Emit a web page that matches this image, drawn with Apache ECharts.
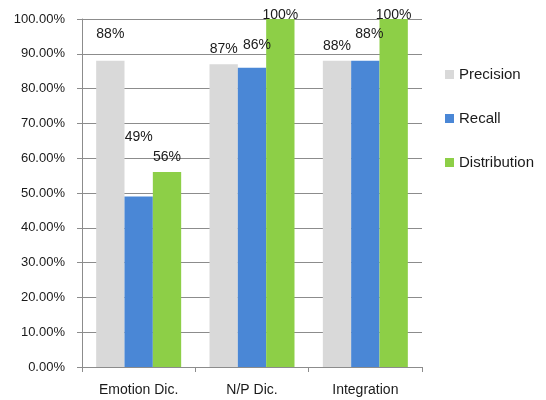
<!DOCTYPE html>
<html>
<head>
<meta charset="utf-8">
<script src="https://cdn.jsdelivr.net/npm/echarts@6/dist/echarts.min.js"></script>
<style>
  html, body { margin: 0; padding: 0; background: #fff; }
  #chart { width: 546px; height: 400px; }
</style>
</head>
<body>
<div id="chart"></div>
<script>
var categories = ['Emotion Dic.', 'N/P Dic.', 'Integration'];
var seriesNames = ['Precision', 'Recall', 'Distribution'];
var precision = [88, 87, 88];
var recall = [49, 86, 88];
var distribution = [56, 100, 100];
var colors = ['#d9d9d9', '#4a87d6', '#8dcf47'];

// label nudges (x, y) so the labels sit where they do in the picture
var labelOffsets = [
  [[0, -16], [0, -4], [0, -4]],
  [[0, -48], [5, -12], [4, -16]],
  [[0, -4], [0, 7], [0, 7]]
];

var allValues = [precision, recall, distribution];

function makeSeries(i) {
  return {
    name: seriesNames[i],
    type: 'bar',
    barGap: 0,
    barCategoryGap: '25%',
    itemStyle: { color: colors[i] },
    data: allValues[i].map(function (v, j) {
      return {
        value: v,
        label: { offset: labelOffsets[i][j] }
      };
    }),
    label: {
      show: true,
      position: 'top',
      distance: 4,
      color: '#1a1a1a',
      fontSize: 14,
      fontFamily: 'Liberation Sans',
      formatter: function (p) { return p.value + '%'; }
    }
  };
}

var myChart = echarts.init(document.getElementById('chart'));
myChart.setOption({
  animation: false,
  grid: { left: 82, right: 124, top: 19, bottom: 33 },
  legend: {
    orient: 'vertical',
    left: 440,
    top: 62,
    itemWidth: 9,
    itemHeight: 9,
    itemGap: 29,
    icon: 'rect',
    textStyle: { fontSize: 15, color: '#1a1a1a', fontFamily: 'Liberation Sans', lineHeight: 15 },
    data: seriesNames
  },
  xAxis: {
    type: 'category',
    data: categories,
    axisLine: { lineStyle: { color: '#8c8c8c' } },
    axisTick: { show: true, length: 5, lineStyle: { color: '#8c8c8c' } },
    axisLabel: { margin: 16, fontSize: 14, color: '#1a1a1a', fontFamily: 'Liberation Sans' }
  },
  yAxis: {
    type: 'value',
    min: 0,
    max: 100,
    interval: 10,
    axisLine: { show: true, lineStyle: { color: '#8c8c8c' } },
    axisTick: { show: true, length: 5, lineStyle: { color: '#8c8c8c' } },
    splitLine: { lineStyle: { color: '#8c8c8c' } },
    axisLabel: {
      margin: 17,
      fontSize: 13,
      color: '#1a1a1a',
      fontFamily: 'Liberation Sans',
      formatter: function (v) { return v.toFixed(2) + '%'; }
    }
  },
  series: [makeSeries(0), makeSeries(1), makeSeries(2)]
});
</script>
</body>
</html>
